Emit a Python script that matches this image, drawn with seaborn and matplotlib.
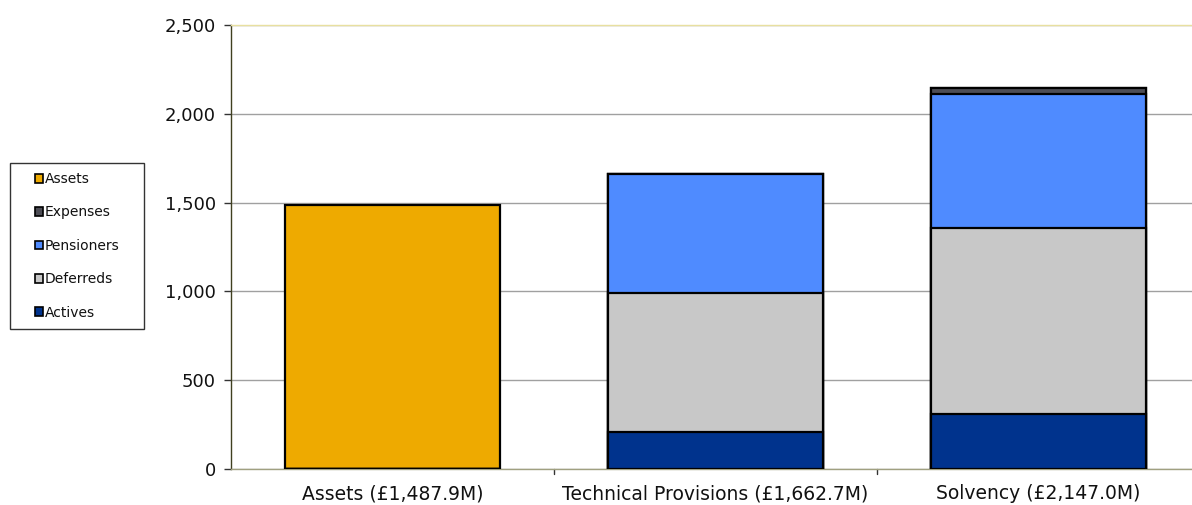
import matplotlib
matplotlib.use("Agg")
import matplotlib.pyplot as plt
import matplotlib.patches as mpatches
import seaborn as sns
import numpy as np
import pandas as pd

categories = ["Assets (£1,487.9M)", "Technical Provisions (£1,662.7M)", "Solvency (£2,147.0M)"]
assets = [1487.9, 0.0, 0.0]
actives = [0.0, 210.0, 310.0]
deferreds = [0.0, 781.0, 1047.0]
pensioners = [0.0, 671.7, 754.0]
expenses = [0.0, 0.0, 36.0]

series_names = ["Actives", "Deferreds", "Pensioners", "Expenses", "Assets"]
colors = {"Assets": "#EEAA00", "Expenses": "#4D4D55", "Pensioners": "#4F8BFF",
          "Deferreds": "#C8C8C8", "Actives": "#00338D"}

sns.set_theme(style="white")
plt.rcParams["font.family"] = ["DejaVu Sans"]

W, H = 1192, 505
fig = plt.figure(figsize=(W / 100, H / 100), dpi=100)
ax = fig.add_axes([231/W, 1 - 469/H, 969/W, 444/H])

vals = {"Actives": actives, "Deferreds": deferreds, "Pensioners": pensioners,
        "Expenses": expenses, "Assets": assets}
stack = np.zeros(len(categories))
cums = []
for name in series_names:
    stack = stack + np.array(vals[name])
    cums.append((name, stack.copy()))

for z, (name, cum) in enumerate(reversed(cums)):
    df = pd.DataFrame({"cat": categories, "val": cum})
    sns.barplot(data=df, x="cat", y="val", color=colors[name], ax=ax,
                width=0.667, edgecolor="black", linewidth=1.6, saturation=1,
                zorder=3 + z, errorbar=None)

ax.set_ylim(0, 2500)
ax.set_xlim(-0.5, 2.5)
ax.set_yticks([0, 500, 1000, 1500, 2000, 2500])
ax.set_yticklabels(["0", "500", "1,000", "1,500", "2,000", "2,500"], fontsize=13)
ax.tick_params(axis="x", labelsize=13.5, length=0, pad=11)
ax.tick_params(axis="y", length=5, width=1, color="#333333", left=True, pad=6)
for t in ax.get_xticklabels() + ax.get_yticklabels():
    t.set_color("#111111")
ax.set_xlabel("")
ax.set_ylabel("")
ax.yaxis.grid(True, color="#A0A0A0", linewidth=1)
ax.set_axisbelow(True)
ax.spines["right"].set_visible(False)
ax.spines["top"].set_color("#E8E0A0")
ax.spines["left"].set_color("#404020")
ax.spines["bottom"].set_color("#A0A080")
for sp in ["top", "left", "bottom"]:
    ax.spines[sp].set_linewidth(1)

for xp in [0.5, 1.5]:
    ax.plot([xp, xp], [0, -0.012], transform=ax.get_xaxis_transform(),
            color="#333333", lw=1, clip_on=False)

# legend frame box
box = mpatches.Rectangle((10/W, 1 - 329/H), 134/W, 166/H, transform=fig.transFigure,
                         facecolor="white", edgecolor="#333333", linewidth=1, zorder=1)
fig.patches.append(box)

legend_order = ["Assets", "Expenses", "Pensioners", "Deferreds", "Actives"]
handles = [mpatches.Patch(facecolor=colors[n], edgecolor="black", linewidth=1.2, label=n)
           for n in legend_order]
leg = fig.legend(handles=handles, loc="upper left", bbox_to_anchor=(35/W, 1 - 172/H),
                 fontsize=10, frameon=False,
                 handlelength=0.6, handleheight=0.6, handletextpad=0.1,
                 labelspacing=1.4, borderpad=0, borderaxespad=0)
leg.set_zorder(5)
for t in leg.get_texts():
    t.set_color("#111111")

fig.savefig("out.png", dpi=100)
